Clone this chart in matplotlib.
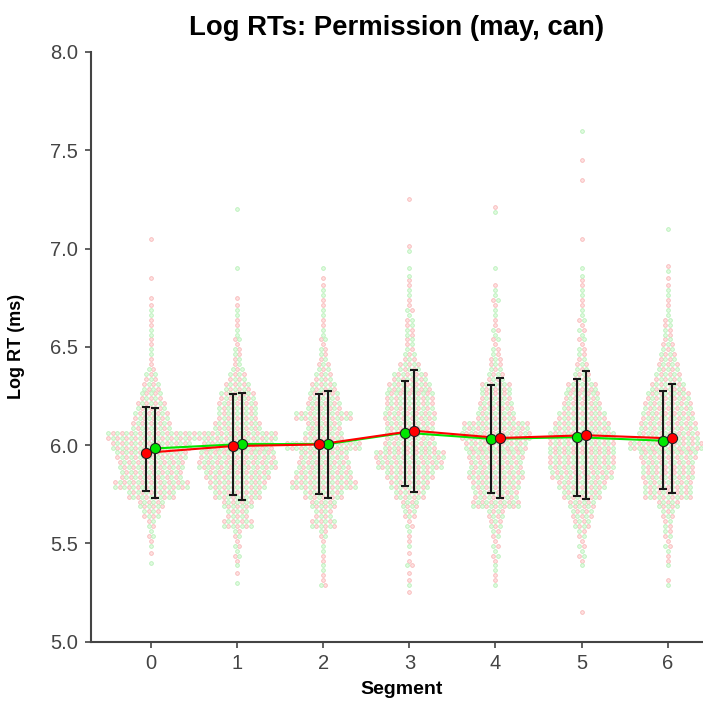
import numpy as np
import matplotlib
matplotlib.use('Agg')
import matplotlib.pyplot as plt

plt.rcParams['font.family'] = ['Liberation Sans', 'DejaVu Sans']

segments = [0, 1, 2, 3, 4, 5, 6]

# condition means and error bar ends (log RT)
red_mean = [5.961, 5.995, 6.003, 6.073, 6.036, 6.050, 6.034]
red_low = [5.768, 5.744, 5.749, 5.759, 5.729, 5.728, 5.757]
red_high = [6.195, 6.259, 6.258, 6.381, 6.341, 6.376, 6.309]
green_mean = [5.983, 6.005, 6.005, 6.063, 6.032, 6.040, 6.022]
green_low = [5.732, 5.720, 5.729, 5.793, 5.757, 5.741, 5.776]
green_high = [6.187, 6.266, 6.275, 6.327, 6.304, 6.337, 6.276]
# red sits left of green in the first three segments, right of it after
red_left = [True, True, True, False, False, False, False]

# swarm: number of single trials in each 0.05 wide bin, bins 5.15 ... 7.60
bin_start = 5.15
bin_width = 0.05
seg0_counts = [0, 0, 0, 0, 0, 1, 1, 2, 3, 4,
               8, 12, 22, 34, 28, 30, 32, 36, 40, 18,
               16, 14, 10, 8, 6, 3, 2, 2, 2, 2,
               2, 2, 1, 0, 1, 0, 0, 0, 1, 0,
               0, 0, 0, 0, 0, 0, 0, 0, 0, 0]
seg1_counts = [0, 0, 0, 1, 1, 2, 3, 3, 4, 14,
               10, 14, 22, 26, 30, 36, 34, 32, 36, 22,
               18, 18, 16, 12, 8, 5, 4, 3, 3, 2,
               2, 2, 1, 0, 0, 1, 0, 0, 0, 0,
               0, 1, 0, 0, 0, 0, 0, 0, 0, 0]
seg2_counts = [0, 0, 0, 3, 2, 2, 2, 2, 4, 12,
               8, 12, 18, 30, 26, 24, 22, 34, 18, 16,
               26, 16, 14, 12, 8, 6, 4, 3, 3, 2,
               2, 2, 2, 2, 1, 1, 0, 0, 0, 0,
               0, 0, 0, 0, 0, 0, 0, 0, 0, 0]
seg3_counts = [0, 0, 1, 2, 1, 3, 1, 2, 2, 3,
               6, 8, 14, 18, 22, 30, 32, 24, 22, 22,
               24, 22, 22, 20, 16, 10, 6, 4, 4, 4,
               3, 3, 2, 2, 2, 1, 0, 2, 0, 0,
               0, 0, 1, 0, 0, 0, 0, 0, 0, 0]
seg4_counts = [0, 0, 0, 2, 2, 2, 3, 3, 4, 6,
               8, 22, 20, 22, 26, 24, 26, 28, 32, 30,
               18, 16, 14, 14, 8, 6, 5, 3, 3, 3,
               2, 2, 3, 2, 0, 1, 0, 0, 0, 0,
               0, 2, 0, 0, 0, 0, 0, 0, 0, 0]
seg5_counts = [1, 0, 0, 0, 0, 2, 3, 3, 4, 8,
               10, 12, 18, 22, 28, 30, 30, 30, 30, 26,
               22, 18, 16, 14, 8, 6, 4, 3, 3, 3,
               3, 2, 2, 2, 2, 1, 0, 0, 1, 0,
               0, 0, 0, 0, 1, 0, 1, 0, 0, 1]
seg6_counts = [0, 0, 0, 2, 0, 2, 2, 3, 4, 4,
               6, 10, 22, 22, 24, 24, 26, 36, 28, 26,
               24, 22, 20, 16, 12, 10, 8, 6, 4, 4,
               3, 2, 2, 2, 1, 2, 0, 0, 0, 1,
               0, 0, 0, 0, 0, 0, 0, 0, 0, 0]
all_counts = [seg0_counts, seg1_counts, seg2_counts, seg3_counts,
              seg4_counts, seg5_counts, seg6_counts]

fig = plt.figure(figsize=(7.03, 7.02), dpi=100)
ax = fig.add_axes([0.129, 0.086, 0.871, 0.840])

# swarm dots, two sub rows per bin, colours mixed
dot_dx = 0.052
pink_x, pink_y, mint_x, mint_y = [], [], [], []
for seg, counts in zip(segments, all_counts):
    for j, n in enumerate(counts):
        if n == 0:
            continue
        yc = bin_start + j * bin_width
        if n == 1:
            rows = [(yc, 1)]
        else:
            rows = [(yc - bin_width / 4, (n + 1) // 2), (yc + bin_width / 4, n // 2)]
        for r, (yy, m) in enumerate(rows):
            xs = seg + (np.arange(m) - (m - 1) / 2) * dot_dx
            for k, xx in enumerate(xs):
                if (k + r + j) % 2 == 0:
                    pink_x.append(xx); pink_y.append(yy)
                else:
                    mint_x.append(xx); mint_y.append(yy)

ax.scatter(pink_x, pink_y, s=7, facecolor='#ffe0e0', edgecolor='#f7b8b8',
           linewidth=0.6, zorder=1)
ax.scatter(mint_x, mint_y, s=7, facecolor='#e0fbe0', edgecolor='#b8f0b8',
           linewidth=0.6, zorder=1)

# means with error bars
dodge = 0.052
seg_arr = np.array(segments, dtype=float)
side = np.where(red_left, -1, 1)
red_x = seg_arr + side * dodge
green_x = seg_arr - side * dodge

for xs, m, lo, hi, col in [(green_x, green_mean, green_low, green_high, '#00e600'),
                           (red_x, red_mean, red_low, red_high, '#ff0000')]:
    m = np.array(m); lo = np.array(lo); hi = np.array(hi)
    ax.errorbar(xs, m, yerr=[m - lo, hi - m], fmt='none', ecolor='#1a1a1a',
                elinewidth=1.5, capsize=3, capthick=1.5, zorder=3)
    ax.plot(xs, m, color=col, lw=1.5, zorder=4)

for xs, m, col in [(green_x, green_mean, '#00e600'), (red_x, red_mean, '#ff0000')]:
    ax.plot(xs, m, 'o', color=col, markersize=7.3, markeredgecolor='#222222',
            markeredgewidth=0.8, linestyle='none', zorder=5)

ax.set_xlim(-0.70, 6.41)
ax.set_ylim(5.0, 8.0)
ax.set_yticks(np.arange(5.0, 8.01, 0.5))
ax.set_yticklabels([f'{v:.1f}' for v in np.arange(5.0, 8.01, 0.5)])
ax.set_xticks(segments)

for s in ['top', 'right']:
    ax.spines[s].set_visible(False)
for s in ['left', 'bottom']:
    ax.spines[s].set_color('#444444')
    ax.spines[s].set_linewidth(1.5)
ax.tick_params(axis='both', labelsize=14.5, colors='#444444', length=4, width=1.2, pad=5)

ax.set_title('Log RTs: Permission (may, can)', fontsize=19.8, fontweight='bold', pad=12)
ax.set_ylabel('Log RT (ms)', fontsize=13, fontweight='bold')
ax.set_xlabel('Segment', fontsize=14, fontweight='bold')
ax.yaxis.set_label_coords(-0.107, 0.5)
ax.xaxis.set_label_coords(0.508, -0.066)

fig.savefig('out.png', dpi=100)
